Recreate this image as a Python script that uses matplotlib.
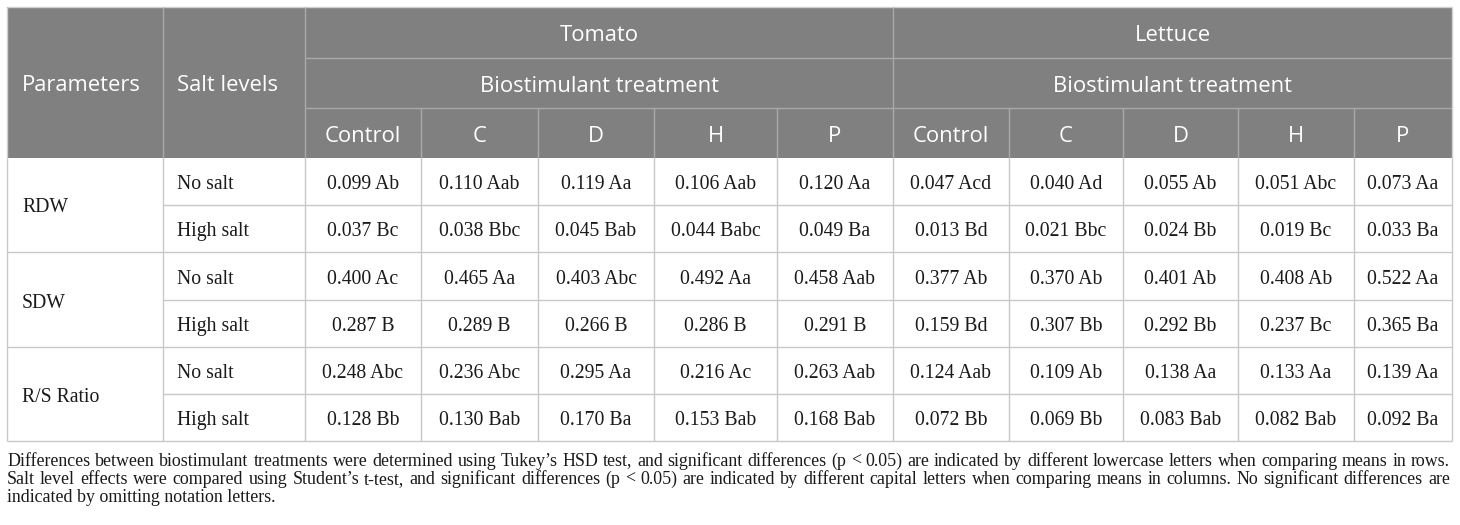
import matplotlib
matplotlib.use("Agg")
import matplotlib.pyplot as plt
from matplotlib.patches import Rectangle

# ---------------- data ----------------
crops = ["Tomato", "Lettuce"]
treatments = ["Control", "C", "D", "H", "P"]
parameters = ["RDW", "SDW", "R/S Ratio"]
salt_levels = ["No salt", "High salt"]

tomato_values = [
    ["0.099 Ab", "0.110 Aab", "0.119 Aa", "0.106 Aab", "0.120 Aa"],
    ["0.037 Bc", "0.038 Bbc", "0.045 Bab", "0.044 Babc", "0.049 Ba"],
    ["0.400 Ac", "0.465 Aa", "0.403 Abc", "0.492 Aa", "0.458 Aab"],
    ["0.287 B", "0.289 B", "0.266 B", "0.286 B", "0.291 B"],
    ["0.248 Abc", "0.236 Abc", "0.295 Aa", "0.216 Ac", "0.263 Aab"],
    ["0.128 Bb", "0.130 Bab", "0.170 Ba", "0.153 Bab", "0.168 Bab"],
]
lettuce_values = [
    ["0.047 Acd", "0.040 Ad", "0.055 Ab", "0.051 Abc", "0.073 Aa"],
    ["0.013 Bd", "0.021 Bbc", "0.024 Bb", "0.019 Bc", "0.033 Ba"],
    ["0.377 Ab", "0.370 Ab", "0.401 Ab", "0.408 Ab", "0.522 Aa"],
    ["0.159 Bd", "0.307 Bb", "0.292 Bb", "0.237 Bc", "0.365 Ba"],
    ["0.124 Aab", "0.109 Ab", "0.138 Aa", "0.133 Aa", "0.139 Aa"],
    ["0.072 Bb", "0.069 Bb", "0.083 Bab", "0.082 Bab", "0.092 Ba"],
]
header_param = "Parameters"
header_salt = "Salt levels"
header_group = "Biostimulant treatment"
footnote_lines = [
    "Differences between biostimulant treatments were determined using Tukey\u2019s HSD test, and significant differences (p < 0.05) are indicated by different lowercase letters when comparing means in rows.",
    "Salt level effects were compared using Student\u2019s t-test, and significant differences (p < 0.05) are indicated by different capital letters when comparing means in columns. No significant differences are",
    "indicated by omitting notation letters.",
]

# ---------------- layout (pixels) ----------------
W, H = 1460, 525
col_x = [7, 163, 305, 421, 538, 654, 777, 893, 1009, 1123, 1238, 1354, 1452]
head_y = [7, 58, 108, 158]
body_y = [158, 205, 252, 300, 347, 394, 441]

HEAD_BG = "#808080"
HEAD_LINE = "#a9a9a9"
BODY_LINE = "#c8c8c8"
TXT = "#1a1a1a"
SANS = "Open Sans"
SERIF = "Liberation Serif"
HFS = 15.8
BFS = 14.2
FFS = 12.9
DY = 3  # visual centering offset

fig = plt.figure(figsize=(W / 100, H / 100), dpi=100)
ax = fig.add_axes([0, 0, 1, 1])
ax.set_xlim(0, W)
ax.set_ylim(H, 0)
ax.axis("off")

ax.add_patch(Rectangle((col_x[0], head_y[0]), col_x[-1] - col_x[0], head_y[-1] - head_y[0],
                       facecolor=HEAD_BG, edgecolor="none", zorder=1))

def hline(y, x0, x1, c):
    ax.plot([x0, x1], [y, y], color=c, lw=1.0, zorder=2, solid_capstyle="butt")

def vline(x, y0, y1, c):
    ax.plot([x, x], [y0, y1], color=c, lw=1.0, zorder=2, solid_capstyle="butt")

hline(head_y[0], col_x[0], col_x[-1], "#d0d0d0")
hline(head_y[1], col_x[2], col_x[-1], HEAD_LINE)
hline(head_y[2], col_x[2], col_x[-1], HEAD_LINE)
vline(col_x[0], head_y[0], head_y[-1], "#d0d0d0")
vline(col_x[-1], head_y[0], head_y[-1], "#d0d0d0")
vline(col_x[1], head_y[0], head_y[-1], HEAD_LINE)
vline(col_x[2], head_y[0], head_y[-1], HEAD_LINE)
vline(col_x[7], head_y[0], head_y[-1], HEAD_LINE)
for i in range(3, 12):
    if i != 7:
        vline(col_x[i], head_y[2], head_y[3], HEAD_LINE)

ax.text(22, (head_y[0] + head_y[-1]) / 2 + DY, header_param, color="white", fontsize=HFS,
        family=SANS, ha="left", va="center", zorder=3)
ax.text(177, (head_y[0] + head_y[-1]) / 2 + DY, header_salt, color="white", fontsize=HFS,
        family=SANS, ha="left", va="center", zorder=3)
for g, crop in enumerate(crops):
    x0 = col_x[2 + 5 * g]
    x1 = col_x[7 + 5 * g]
    ax.text((x0 + x1) / 2, (head_y[0] + head_y[1]) / 2 + DY, crop, color="white", fontsize=HFS,
            family=SANS, ha="center", va="center", zorder=3)
    ax.text((x0 + x1) / 2, (head_y[1] + head_y[2]) / 2 + DY, header_group, color="white",
            fontsize=HFS, family=SANS, ha="center", va="center", zorder=3)
    for j, t in enumerate(treatments):
        xa = col_x[2 + 5 * g + j]
        xb = col_x[3 + 5 * g + j]
        ax.text((xa + xb) / 2, (head_y[2] + head_y[3]) / 2 + DY, t, color="white", fontsize=HFS,
                family=SANS, ha="center", va="center", zorder=3)

for r in range(1, 6):
    x0 = col_x[0] if r % 2 == 0 else col_x[1]
    hline(body_y[r], x0, col_x[-1], BODY_LINE)
hline(body_y[-1], col_x[0], col_x[-1], BODY_LINE)
for x in col_x:
    vline(x, body_y[0], body_y[-1], BODY_LINE)

rows = [t + l for t, l in zip(tomato_values, lettuce_values)]
for r, vals in enumerate(rows):
    yc = (body_y[r] + body_y[r + 1]) / 2 + DY
    if r % 2 == 0:
        ax.text(22, body_y[r + 1] + DY, parameters[r // 2], fontsize=BFS, family=SERIF,
                color=TXT, ha="left", va="center", zorder=3)
    ax.text(177, yc, salt_levels[r % 2], fontsize=BFS, family=SERIF, color=TXT,
            ha="left", va="center", zorder=3)
    for j, v in enumerate(vals):
        xa, xb = col_x[2 + j], col_x[3 + j]
        ax.text((xa + xb) / 2, yc, v, fontsize=BFS, family=SERIF, color=TXT,
                ha="center", va="center", zorder=3)

# footnote, first two lines justified
renderer = fig.canvas.get_renderer()
fx0, fx1 = 7, 1450
for k, line in enumerate(footnote_lines):
    y = 459 + 18.3 * k + 2
    if k < len(footnote_lines) - 1:
        words = line.split(" ")
        objs = [ax.text(0, y, w, fontsize=FFS, family=SERIF, color=TXT,
                        ha="left", va="center", zorder=3) for w in words]
        widths = [o.get_window_extent(renderer).width for o in objs]
        gap = (fx1 - fx0 - sum(widths)) / (len(words) - 1)
        x = fx0
        for o, wd in zip(objs, widths):
            o.set_x(x)
            x += wd + gap
    else:
        ax.text(fx0, y, line, fontsize=FFS, family=SERIF, color=TXT,
                ha="left", va="center", zorder=3)

fig.savefig("out.png", dpi=100)
